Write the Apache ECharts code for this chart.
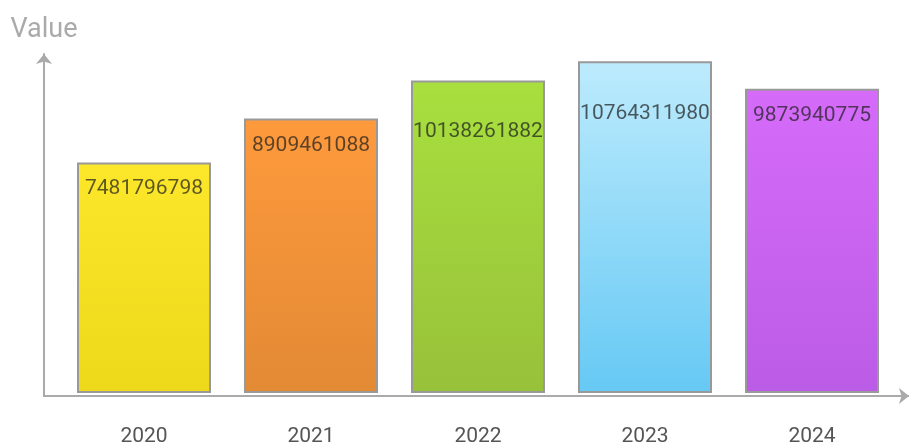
<!DOCTYPE html>
<html>
<head>
<meta charset="utf-8">
<script src="https://cdn.jsdelivr.net/npm/echarts@6/dist/echarts.min.js"></script>
<style>html,body{margin:0;padding:0;background:#fff;}#c{width:909px;height:447px;}</style>
</head>
<body>
<div id="c"></div>
<script>
const categories = ['2020', '2021', '2022', '2023', '2024'];
const values = [7481796798, 8909461088, 10138261882, 10764311980, 9873940775];
const topColors = ['#FDE72A', '#FE9A3C', '#A8E03E', '#BDEBFD', '#D66BFA'];
const bottomColors = ['#EED81A', '#E38A35', '#98C13A', '#66C9F4', '#BB5CE6'];
const labelDistances = [16, 17, 41, 42, 17];

const chart = echarts.init(document.getElementById('c'), null, {renderer: 'canvas'});
const data = values.map((v, i) => ({
  value: v,
  itemStyle: {
    color: new echarts.graphic.LinearGradient(0, 0, 0, 1, [
      {offset: 0, color: topColors[i]},
      {offset: 1, color: bottomColors[i]}
    ])
  },
  label: {distance: labelDistances[i]}
}));

chart.setOption({
  animation: false,
  grid: [
    {left: 60.5, right: 13.5, top: 54, bottom: 51},
    {left: 44, width: 872, top: 54, bottom: 51}
  ],
  xAxis: [
    {
      type: 'category', gridIndex: 0, data: categories,
      axisLine: {show: false}, axisTick: {show: false},
      axisLabel: {color: '#555', fontSize: 21, margin: 33, fontFamily: 'Roboto'}
    },
    {
      type: 'value', gridIndex: 1, min: 0, max: 1,
      axisLine: {show: true, symbol: ['none', 'arrow'], symbolSize: [12, 10], lineStyle: {color: '#aaa', width: 2}},
      axisTick: {show: false}, axisLabel: {show: false}, splitLine: {show: false}
    }
  ],
  yAxis: [
    {
      type: 'value', gridIndex: 0, min: 0, max: 11000000000,
      axisLine: {show: false}, axisTick: {show: false}, axisLabel: {show: false}, splitLine: {show: false}
    },
    {
      type: 'value', gridIndex: 1, min: 0, max: 1,
      name: 'Value', nameLocation: 'end', nameGap: 10,
      nameTextStyle: {color: '#aaa', fontSize: 27, fontFamily: 'Roboto', align: 'center'},
      axisLine: {show: true, symbol: ['none', 'arrow'], symbolSize: [12, 10], lineStyle: {color: '#aaa', width: 2}},
      axisTick: {show: false}, axisLabel: {show: false}, splitLine: {show: false}
    }
  ],
  series: [{
    type: 'bar', xAxisIndex: 0, yAxisIndex: 0,
    data: data,
    barWidth: 134,
    itemStyle: {borderColor: '#999', borderWidth: 2},
    label: {
      show: true, position: 'insideTop',
      color: 'rgba(30,30,30,0.72)', fontSize: 21, fontFamily: 'Roboto'
    }
  }]
});
</script>
</body>
</html>
